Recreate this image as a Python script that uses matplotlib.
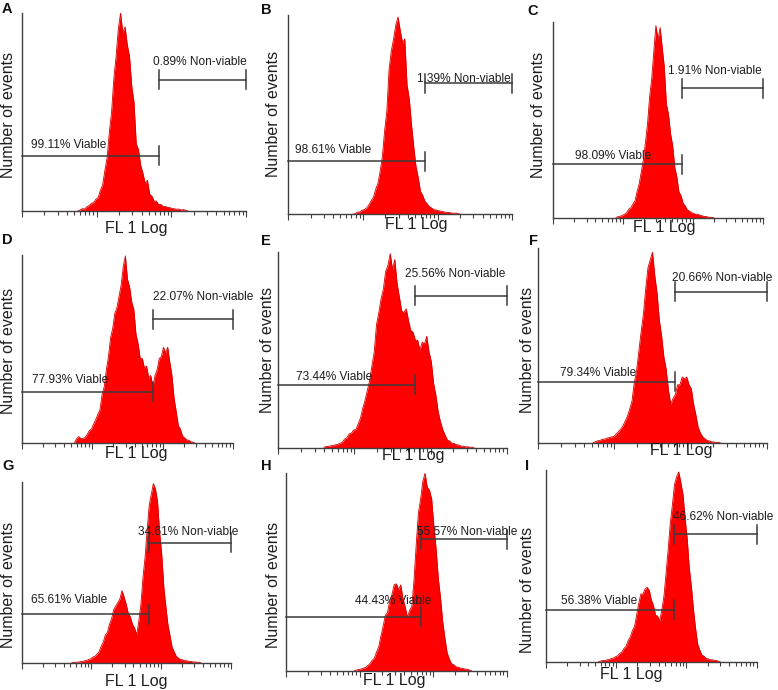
import numpy as np
import matplotlib
matplotlib.use('Agg')
import matplotlib.pyplot as plt
from matplotlib.ticker import LogLocator, NullFormatter

plt.rcParams['font.family'] = ['Liberation Sans', 'DejaVu Sans']

W, H = 778, 690
STEP = 0.03  # histogram channel width in decades of FL1

# ---------------- data (relative event counts) ----------------
panel_ids = ['A', 'B', 'C', 'D', 'E', 'F', 'G', 'H', 'I']

A_start = 0.75
A_counts = [0, 0.6, 1.2, 1.0, 2.2, 2.8, 3.9, 4.2, 6.0, 6.8, 10.5, 13.2, 20.5, 27, 40, 50, 67, 78,
            92, 100, 90, 93, 84, 78, 63, 55, 34, 31, 23, 19, 14, 15.5, 8.5, 7.5, 5, 5, 3.2, 3.4,
            2.2, 2.4, 1.8, 1.7, 1.3, 1.1, 0.9, 1.0, 0.5, 0.7, 0.4, 0]

B_start = 0.87
B_counts = [0, 0.5, 1.1, 1.2, 2.1, 2.4, 3.2, 4.8, 6.8, 8.6, 12.5, 15.5, 21.5, 29, 42, 52, 73, 82,
            88, 95, 99, 92, 86, 88, 65, 58, 45, 34, 24, 18.5, 11.5, 9.5, 6.5, 5.3, 3.8, 3.2,
            2.3, 2.2, 1.8, 1.6, 1.3, 1.1, 0.9, 0.9, 0.6, 0.5, 0.6, 0.3, 0]

C_start = 0.90
C_counts = [0.5, 0.8, 1.1, 1.4, 2.1, 2.8, 4.6, 5.3, 7.2, 8.8, 13.5, 17.5, 23.5, 29.5, 38.5, 48,
            62, 71, 85, 98, 91, 97, 87, 77, 58, 53, 43, 37, 26, 21, 13.5, 11.5, 7.6, 6.3, 4.3,
            3.7, 2.8, 2.6, 1.9, 2.1, 1.6, 1.3, 0.9, 0.9, 0.6, 0.5, 0.5, 0]

D_start = 0.75
D_counts = [0.5, 2.5, 3.6, 2.4, 2.6, 3.1, 4.8, 6.8, 7.7, 10.3, 12.6, 15.4, 17.8, 26, 30, 39, 46,
            56, 61, 69, 72, 78, 84, 94, 99.5, 87, 83, 75, 71, 58, 53, 45, 45, 40, 41, 35, 36,
            30, 36, 39, 45, 46, 51, 48, 51, 43, 36, 24, 17, 9.5, 7.5, 3.8, 2.9, 1.8, 1.6, 0.8,
            0.6, 0]

E_start = 0.60
E_counts = [0.5, 1.0, 0.9, 1.3, 1.4, 1.8, 1.9, 2.6, 3.0, 4.7, 5.3, 7.3, 7.7, 9.3, 9.6, 12.5,
            15.5, 20.5, 24.5, 29.5, 34.5, 42, 49, 63, 69, 76, 81, 90, 93, 99, 91, 96, 84, 77, 70,
            69, 71, 65, 60, 59, 55, 55, 50, 54, 53, 57, 49, 44, 33, 27, 18.5, 13.5, 9.5, 6.8,
            4.3, 3.7, 2.6, 2.4, 1.8, 1.7, 1.1, 1.1, 0.7, 0.8, 0.5, 0.6, 0]

F_start = 0.72
F_counts = [0.3, 0.8, 1.3, 1.4, 2.1, 2.1, 2.6, 2.9, 3.3, 3.4, 4.7, 5.8, 7.2, 8.8, 11.3, 13.8, 17.5,
            21.5, 31, 37, 47, 57, 66, 79, 90, 94, 98, 86, 77, 63, 55, 44, 38, 27, 20, 23, 25, 30,
            30, 34, 33, 34, 30, 28, 20, 14.5, 8.2, 5.2, 3.3, 2.3, 1.4, 1.2, 0.7, 0.7, 0.4, 0.5, 0]

G_start = 0.72
G_counts = [0.3, 0.5, 0.6, 0.6, 0.9, 0.9, 1.4, 1.5, 2.1, 2.4, 3.4, 3.8, 5.0, 6.3, 9.3, 11.6, 15.5,
            17, 21.5, 24.5, 29.5, 31.5, 33.5, 35.5, 40, 36.5, 32.5, 27.5, 25.5, 21.5, 19.5, 15.6,
            23, 32, 47, 58, 73, 87, 93, 99, 96, 89, 72, 60, 42, 31, 21, 15, 8.7, 6.2, 3.8, 2.9,
            2.1, 1.9, 1.4, 1.4, 1.0, 1.1, 0.7, 0.8, 0.5, 0.6, 0]

H_start = 0.93
H_counts = [0, 0.3, 0.7, 0.8, 1.3, 1.6, 2.6, 3.5, 5.2, 6.3, 9.4, 12.1, 17.5, 22.5, 28, 29.5, 35.5,
            38.5, 43.5, 44, 41, 43.5, 36.5, 32.5, 27, 30.5, 32.5, 46, 64, 80, 87, 96, 100, 93,
            91.5, 87, 73, 62, 47, 37, 25, 16.5, 9.2, 5.8, 3.6, 3.0, 2.0, 1.8, 1.3, 1.2, 0.8,
            0.8, 0.4, 0]

I_start = 0.75
I_counts = [0.3, 0.7, 0.9, 0.9, 1.3, 1.4, 2.0, 2.2, 2.9, 3.4, 4.6, 5.3, 7.2, 8.3, 11.3, 13.2,
            16.5, 18.5, 24.5, 30.5, 35.5, 35.5, 38, 39, 37.5, 32.5, 29.5, 24.5, 24, 21.5, 27.5,
            34.5, 46.5, 59, 72.5, 82, 92.5, 96.5, 99, 93.5, 87.5, 75, 64.5, 49, 39.5, 27.5,
            17.5, 9.5, 6.3, 3.8, 3.2, 1.9, 1.8, 1.3, 1.3, 0.9, 0.9, 0.5, 0]

starts = [A_start, B_start, C_start, D_start, E_start, F_start, G_start, H_start, I_start]
counts = [A_counts, B_counts, C_counts, D_counts, E_counts, F_counts, G_counts, H_counts, I_counts]

viable_pct = ['99.11', '98.61', '98.09', '77.93', '73.44', '79.34', '65.61', '44.43', '56.38']
nonviable_pct = ['0.89', '1.39', '1.91', '22.07', '25.56', '20.66', '34.61', '55.57', '46.62']
gate_fl1 = [68.4, 67.6, 69.2, 71.9, 62.4, 62.4, 67.6, 67.6, 67.1]

# ---------------- layout (pixels, top-left origin) ----------------
axes_px = [(22, 13, 246, 211), (288.3, 15, 512.3, 214.3), (553.3, 21.7, 762.7, 218.3),
           (21.7, 255, 233.3, 443.3), (278.3, 251.7, 506.7, 448.3), (538.3, 248.3, 766.7, 443.3),
           (21.7, 481.7, 230.7, 663.3), (286, 473.3, 506.7, 670.7), (546, 470, 756.7, 662.3)]
letter_px = [(2, 2), (261, 3), (527, 4), (2, 233), (261, 234), (529, 234),
             (2, 459), (261, 459), (525, 459)]
xlabel_px = [(136, 233), (416, 229), (664, 232), (136, 458), (413, 460), (681, 455),
             (136, 686), (394, 685), (631, 679)]
ylabel_px = [(8.5, 115), (273.5, 114), (538.5, 115), (8.5, 351), (268, 350), (527, 350),
             (8.5, 585), (273.5, 585), (528, 590)]
# gate bar heights (axes fraction)
viable_y = [0.279, 0.267, 0.276, 0.274, 0.322, 0.316, 0.27, 0.274, 0.272]
nonv_y = [0.662, 0.657, 0.661, 0.659, 0.776, 0.777, 0.664, 0.666, 0.667]
# gate text anchors (axes fraction: left x, centre y)
viable_txt = [(0.04, 0.333), (0.03, 0.323), (0.104, 0.317), (0.047, 0.336), (0.077, 0.364),
              (0.095, 0.359), (0.045, 0.349), (0.313, 0.355), (0.07, 0.32)]
nonv_txt = [(0.585, 0.754), (0.573, 0.679), (0.548, 0.751), (0.622, 0.778), (0.555, 0.885),
            (0.584, 0.849), (0.558, 0.725), (0.592, 0.704), (0.604, 0.757)]

fig = plt.figure(figsize=(W / 100, H / 100), dpi=100)
fig.patch.set_facecolor('white')

LINE = '#3a3a3a'
TXT = '#1e1e1e'
TICK_HALF_PX = 9.5

for k, pid in enumerate(panel_ids):
    l, t, r, b = axes_px[k]
    ax = fig.add_axes([l / W, 1 - b / H, (r - l) / W, (b - t) / H])
    vals = np.array(counts[k], dtype=float)
    x = 10 ** (starts[k] + STEP * np.arange(len(vals)))
    ax.fill_between(x, 0, vals, color='#ff0000', lw=0, zorder=2)
    ax.plot(x, vals, color='#d20000', lw=0.6, zorder=2)
    ax.set_xscale('log')
    ax.set_xlim(1, 1000)
    ax.set_ylim(0, 100)
    ax.xaxis.set_major_locator(LogLocator(base=10, numticks=10))
    ax.xaxis.set_minor_locator(LogLocator(base=10, subs=np.arange(2, 10), numticks=10))
    ax.xaxis.set_major_formatter(NullFormatter())
    ax.xaxis.set_minor_formatter(NullFormatter())
    ax.tick_params(axis='x', which='major', length=4, width=0.8, color='#404040', direction='out')
    ax.tick_params(axis='x', which='minor', length=3, width=0.8, color='#404040', direction='out')
    ax.set_yticks([])
    for s in ['top', 'right']:
        ax.spines[s].set_visible(False)
    for s in ['left', 'bottom']:
        ax.spines[s].set_color('#404040')
        ax.spines[s].set_linewidth(1.0)
    ax.patch.set_alpha(0)

    trans = ax.get_xaxis_transform()
    half = TICK_HALF_PX / (b - t)
    g = gate_fl1[k]
    vy = viable_y[k]
    ny = nonv_y[k]
    # viable gate
    ax.plot([1, g], [vy, vy], transform=trans, color=LINE, lw=1.1, zorder=4, clip_on=False)
    ax.plot([g, g], [vy - half, vy + half], transform=trans, color=LINE, lw=1.1, zorder=4,
            clip_on=False)
    # non-viable gate
    ax.plot([g, 1000], [ny, ny], transform=trans, color=LINE, lw=1.1, zorder=4, clip_on=False)
    for xx in (g, 1000):
        ax.plot([xx, xx], [ny - half, ny + half], transform=trans, color=LINE, lw=1.1,
                zorder=4, clip_on=False)
    ax.text(viable_txt[k][0], viable_txt[k][1], f'{viable_pct[k]}% Viable',
            transform=ax.transAxes, ha='left', va='center', fontsize=8.6, color=TXT, zorder=5)
    ax.text(nonv_txt[k][0], nonv_txt[k][1], f'{nonviable_pct[k]}% Non-viable',
            transform=ax.transAxes, ha='left', va='center', fontsize=8.6, color=TXT, zorder=5)

    lx, ly = letter_px[k]
    fig.text(lx / W, 1 - ly / H, pid, ha='left', va='top', fontsize=10.5,
             fontweight='bold', color='#111111')
    xx_, yy_ = xlabel_px[k]
    fig.text(xx_ / W, 1 - yy_ / H, 'FL 1 Log', ha='center', va='baseline', fontsize=11.5,
             color=TXT)
    yx, yy = ylabel_px[k]
    fig.text(yx / W, 1 - yy / H, 'Number of events', ha='center', va='center', rotation=90,
             fontsize=11.5, color=TXT)

fig.savefig('out.png', dpi=100, facecolor='white')
